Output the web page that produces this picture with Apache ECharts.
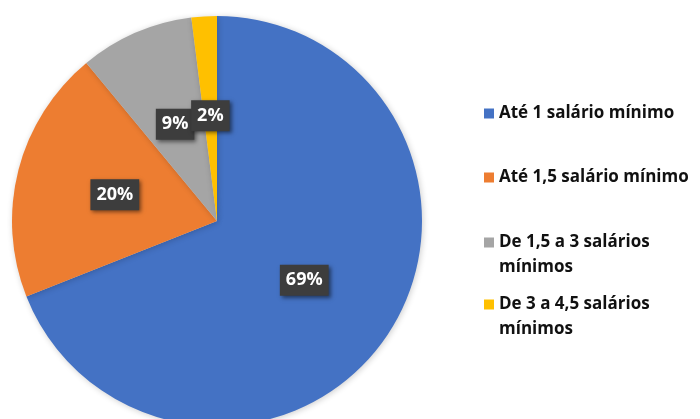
<!DOCTYPE html>
<html>
<head>
<meta charset="utf-8">
<script src="https://cdn.jsdelivr.net/npm/echarts@6/dist/echarts.min.js"></script>
<style>
html,body{margin:0;padding:0;background:#fff;}
#c{width:700px;height:419px;}
</style>
</head>
<body>
<div id="c"></div>
<script>
var categories = ['Até 1 salário mínimo', 'Até 1,5 salário mínimo', 'De 1,5 a 3 salários mínimos', 'De 3 a 4,5 salários mínimos'];
var values = [69, 20, 9, 2];
var legendLabels = ['Até 1 salário mínimo', 'Até 1,5 salário mínimo', 'De 1,5 a 3 salários\nmínimos', 'De 3 a 4,5 salários\nmínimos'];
var colors = ['#4472C4', '#ED7D31', '#A5A5A5', '#FFC000'];

var legendTops = [101, 165, 205, 267];
var font = '"Open Sans", Lato, sans-serif';

var legends = categories.map(function (name, i) {
  return {
    data: [name],
    orient: 'vertical',
    left: 484,
    top: legendTops[i],
    padding: 0,
    itemWidth: 10,
    itemHeight: 10,
    itemGap: 0,
    icon: 'rect',
    selectedMode: false,
    formatter: function (n) {
      var lbl = legendLabels[categories.indexOf(n)];
      return lbl.indexOf('\n') >= 0 ? ' \n' + lbl : lbl;
    },
    textStyle: {
      fontFamily: font,
      fontWeight: 'bold',
      fontSize: 17,
      lineHeight: 25,
      color: '#111',
      padding: [0, 0, 0, 0]
    }
  };
});

var chart = echarts.init(document.getElementById('c'), null, {renderer: 'canvas'});
chart.setOption({
  animation: false,
  color: colors,
  legend: legends,
  series: [{
    type: 'pie',
    center: [217, 221],
    radius: 205,
    startAngle: 90,
    clockwise: true,
    avoidLabelOverlap: false,
    minShowLabelAngle: 0,
    labelLayout: {hideOverlap: false},
    data: categories.map(function (n, i) { return {name: n, value: values[i]}; }),
    itemStyle: {
      shadowBlur: 6,
      shadowColor: 'rgba(0,0,0,0.2)',
      shadowOffsetX: 1,
      shadowOffsetY: 1
    },
    label: {
      show: true,
      position: 'inside',
      formatter: function (p) { return values[p.dataIndex] + '%'; },
      color: '#fff',
      fontFamily: font,
      fontWeight: 'bold',
      fontSize: 18,
      backgroundColor: '#3d3d3d',
      padding: [7, 6, 6, 6],
      shadowBlur: 4,
      shadowColor: 'rgba(0,0,0,0.5)',
      shadowOffsetX: 2,
      shadowOffsetY: 2
    },
    labelLine: {show: false},
    emphasis: {disabled: true}
  }]
});
</script>
</body>
</html>
